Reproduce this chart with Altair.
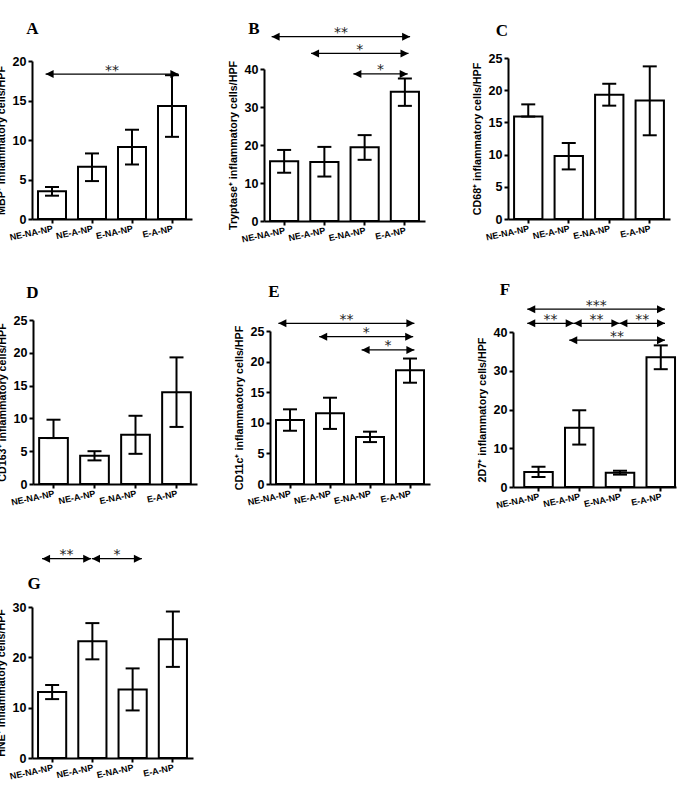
import altair as alt
import pandas as pd

groups = ["NE-NA-NP", "NE-A-NP", "E-NA-NP", "E-A-NP"]

# A: MBP+
mbp_mean = [3.5, 6.6, 9.1, 14.3]
mbp_low = [2.95, 4.8, 6.9, 10.4]
mbp_high = [4.05, 8.3, 11.3, 18.2]
mbp_ticks = [0, 5, 10, 15, 20]
mbp_from = [0.34]
mbp_to = [3.66]
mbp_level = [18.35]
mbp_stars = ["**"]

# B: Tryptase+
tryp_mean = [15.7, 15.5, 19.4, 34.0]
tryp_low = [12.7, 11.7, 16.1, 30.3]
tryp_high = [18.7, 19.5, 22.6, 37.5]
tryp_ticks = [0, 10, 20, 30, 40]
tryp_from = [0.19, 1.17, 2.22]
tryp_to = [3.63, 3.59, 3.57]
tryp_level = [48.5, 44.1, 38.7]
tryp_stars = ["**", "*", "*"]

# C: CD68+
cd68_mean = [15.9, 9.8, 19.3, 18.4]
cd68_low = [15.9, 7.7, 17.6, 13.0]
cd68_high = [17.8, 11.8, 21.0, 23.7]
cd68_ticks = [0, 5, 10, 15, 20, 25]

# D: CD163+
cd163_mean = [7.0, 4.3, 7.5, 14.0]
cd163_low = [7.0, 3.6, 4.6, 8.7]
cd163_high = [9.8, 5.0, 10.4, 19.3]
cd163_ticks = [0, 5, 10, 15, 20, 25]

# E: CD11c+
cd11c_mean = [10.45, 11.55, 7.7, 18.6]
cd11c_low = [8.7, 9.0, 6.85, 16.55]
cd11c_high = [12.2, 14.1, 8.55, 20.5]
cd11c_ticks = [0, 5, 10, 15, 20, 25]
cd11c_from = [0.21, 1.23, 2.29]
cd11c_to = [3.61, 3.58, 3.61]
cd11c_level = [26.25, 24.07, 21.9]
cd11c_stars = ["**", "*", "*"]

# F: 2D7+
d27_mean = [3.9, 15.3, 3.7, 33.5]
d27_low = [2.6, 10.95, 3.2, 30.4]
d27_high = [5.2, 19.8, 4.2, 36.55]
d27_ticks = [0, 10, 20, 30, 40]
d27_from = [0.35, 0.35, 1.49, 2.61, 1.38]
d27_to = [3.73, 1.49, 2.61, 3.73, 3.73]
d27_level = [45.9, 42.25, 42.25, 42.25, 37.9]
d27_stars = ["***", "**", "**", "**", "**"]

# G: HNE+
hne_mean = [13.1, 23.2, 13.6, 23.6]
hne_low = [11.7, 19.6, 9.45, 18.1]
hne_high = [14.5, 26.8, 17.8, 29.1]
hne_ticks = [0, 10, 20, 30]
hne_from = [0.25, 1.49]
hne_to = [1.47, 2.73]
hne_level = [39.6, 39.6]
hne_stars = ["**", "*"]

# Panel geometry: cell size, axis inset from the cell edge, x-axis length,
# top of the y range and letter position inside the cell
LAYOUT = {
    "A": dict(view_w=222, off=0, axis_w=160, view_h=161, top=3, letter=(0.5, -23.7)),
    "B": dict(view_w=234, off=0, axis_w=161, view_h=163, top=11, letter=(-10, -23.7)),
    "C": dict(view_w=168, off=0, axis_w=162, view_h=161, top=0, letter=(-6, -22)),
    "D": dict(view_w=222, off=1, axis_w=164, view_h=164, top=0, letter=(0.5, -22)),
    "E": dict(view_w=234, off=6, axis_w=160, view_h=164, top=11, letter=(10, -23.3)),
    "F": dict(view_w=168, off=5, axis_w=163, view_h=167, top=12, letter=(-3, -25), align=0.92),
    "G": dict(view_w=222, off=0, axis_w=161, view_h=172, top=21, letter=(2, 3)),
}

SANS = "Liberation Sans"
NARROW = "Liberation Sans Narrow, Liberation Sans"


def band_scale(lay):
    return alt.Scale(domain=groups, range=[lay["off"], lay["off"] + lay["axis_w"]],
                     paddingInner=0.3, paddingOuter=0.15, align=lay.get("align", 0.5))


def group_x(lay, axis=None):
    return alt.X("group:N", sort=groups, title=None, scale=band_scale(lay), axis=axis)


def pos_x(field, lay):
    return alt.X(field, type="quantitative", title=None, axis=None,
                 scale=alt.Scale(domain=[0, 4], range=[lay["off"], lay["off"] + lay["axis_w"]],
                                 nice=False, zero=False))


def panel(key, title, mean, low, high, ticks, a_from=None, a_to=None, a_level=None, a_stars=None):
    lay = LAYOUT[key]
    df = pd.DataFrame({"group": groups, "mean": mean, "low": low, "high": high})
    yscale = alt.Scale(domain=[0, ticks[-1]], range=[lay["view_h"], lay["top"]], nice=False)

    x_axis = alt.Axis(labelAngle=348, labelAlign="right", labelBaseline="top",
                      labelFont=NARROW, labelFontSize=9, labelFontWeight="bold",
                      labelColor="black", labelPadding=1, labelOverlap=False,
                      tickSize=4, tickWidth=2, tickColor="black",
                      domainWidth=2, domainColor="black")
    y_axis = alt.Axis(values=ticks, tickCount=len(ticks), title=title, titleFont=SANS,
                      titleFontSize=10.7, titleFontWeight="bold", titleColor="black",
                      titlePadding=6,
                      labelFont=SANS, labelFontSize=12.5, labelFontWeight="bold",
                      labelColor="black", labelPadding=2, labelFlush=False,
                      labelOverlap=False, labelBound=False,
                      tickSize=4, tickWidth=2, tickColor="black",
                      domainWidth=2, domainColor="black", grid=False,
                      offset=-lay["off"])

    def yq(field):
        # every layer carries the same y scale and axis so the shared axis keeps its ticks
        return alt.Y(field, type="quantitative", title=title, scale=yscale, axis=y_axis)

    base = alt.Chart(df)
    bars = base.mark_bar(fill="white", stroke="black", strokeWidth=2).encode(
        x=group_x(lay, x_axis), y=yq("mean"))
    whisker = base.mark_rule(color="black", strokeWidth=2).encode(
        x=group_x(lay), y=yq("low"), y2="high:Q")
    cap_hi = base.mark_tick(color="black", thickness=2, size=14, opacity=1).encode(
        x=group_x(lay), y=yq("high"))
    cap_lo = base.mark_tick(color="black", thickness=2, size=14, opacity=1).encode(
        x=group_x(lay), y=yq("low"))
    layers = [bars, whisker, cap_hi, cap_lo]

    if a_from:
        adf = pd.DataFrame({"x0": a_from, "x1": a_to, "y": a_level, "stars": a_stars})
        abase = alt.Chart(adf)
        line = abase.mark_rule(color="black", strokeWidth=1.3).encode(
            x=pos_x("x0", lay), x2="x1:Q", y=yq("y"))
        head_l = abase.mark_point(shape="M0,0L2,-1L2,1Z", filled=True, size=64,
                                  color="black", opacity=1, strokeWidth=0).encode(
            x=pos_x("x0", lay), y=yq("y"))
        head_r = abase.mark_point(shape="M0,0L-2,-1L-2,1Z", filled=True, size=64,
                                  color="black", opacity=1, strokeWidth=0).encode(
            x=pos_x("x1", lay), y=yq("y"))
        stars = abase.transform_calculate(mid="(datum.x0 + datum.x1) / 2").mark_text(
            font="DejaVu Sans", fontSize=14, color="#222", align="center",
            baseline="alphabetic", dy=0.5).encode(
            x=pos_x("mid", lay), y=yq("y"), text="stars:N")
        layers += [line, head_l, head_r, stars]

    lx, ly = lay["letter"]
    letter = alt.Chart(pd.DataFrame({"panel": [key]})).mark_text(
        font="Liberation Serif", fontSize=17, fontWeight="bold", color="black",
        align="center", baseline="alphabetic").encode(
        text="panel:N", x=alt.value(lx), y=alt.value(ly))
    layers.append(letter)

    return alt.layer(*layers).resolve_scale(x="independent").properties(
        width=lay["view_w"], height=lay["view_h"])


pA = panel("A", "MBP⁺ inflammatory cells/HPF", mbp_mean, mbp_low, mbp_high, mbp_ticks,
           mbp_from, mbp_to, mbp_level, mbp_stars)
pB = panel("B", "Tryptase⁺ inflammatory cells/HPF", tryp_mean, tryp_low, tryp_high, tryp_ticks,
           tryp_from, tryp_to, tryp_level, tryp_stars)
pC = panel("C", "CD68⁺ inflammatory cells/HPF", cd68_mean, cd68_low, cd68_high, cd68_ticks)
pD = panel("D", "CD163⁺ inflammatory cells/HPF", cd163_mean, cd163_low, cd163_high, cd163_ticks)
pE = panel("E", "CD11c⁺ inflammaotory cells/HPF", cd11c_mean, cd11c_low, cd11c_high, cd11c_ticks,
           cd11c_from, cd11c_to, cd11c_level, cd11c_stars)
pF = panel("F", "2D7⁺ inflammatory cells/HPF", d27_mean, d27_low, d27_high, d27_ticks,
           d27_from, d27_to, d27_level, d27_stars)
pG = panel("G", "HNE⁺ inflammatory cells/HPF", hne_mean, hne_low, hne_high, hne_ticks,
           hne_from, hne_to, hne_level, hne_stars)

chart = alt.concat(
    pA, pB, pC, pD, pE, pF, pG,
    columns=3, spacing={"row": 99, "column": 10}, bounds="flush", align="each",
).properties(
    padding={"left": -5, "top": 20, "right": 0, "bottom": 0},
    background="white",
).configure_view(stroke=None)

chart.save("out.html", embed_options={"renderer": "svg", "actions": False})
